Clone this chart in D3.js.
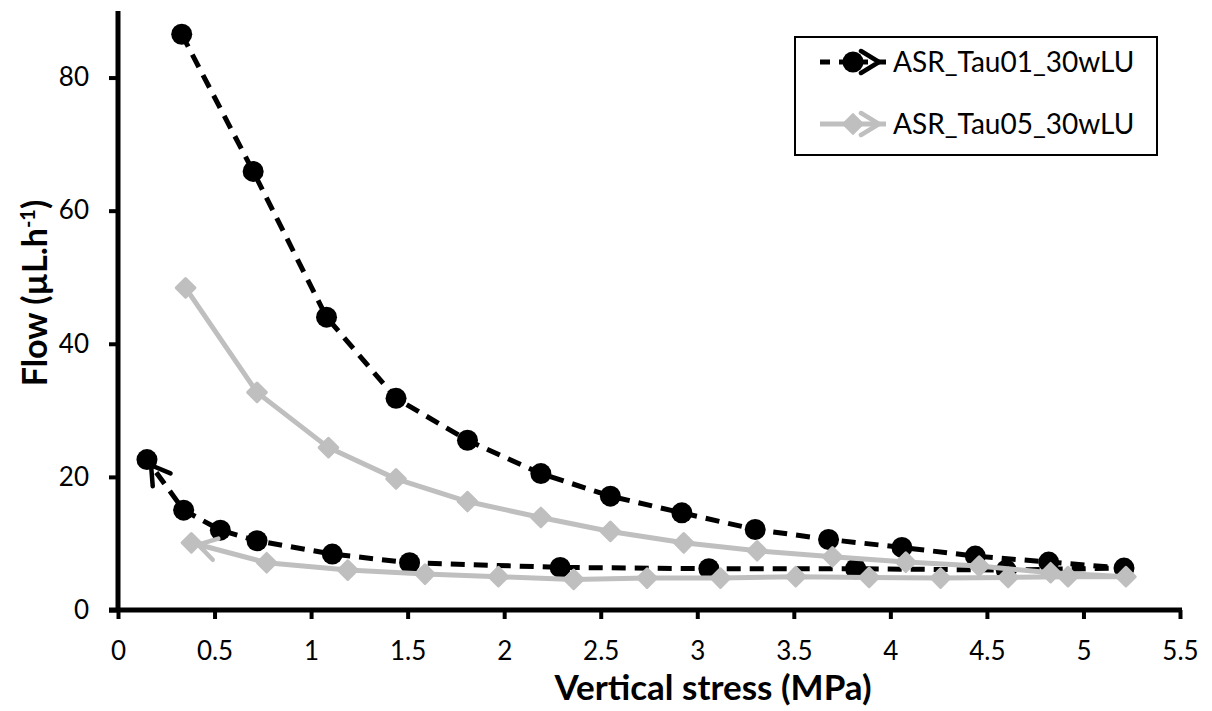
<!DOCTYPE html>
<html><head><meta charset="utf-8">
<script src="https://cdn.jsdelivr.net/npm/d3@7"></script>
<style>body{margin:0;background:#fff}svg{display:block}text{font-family:Lato,"Open Sans",sans-serif}</style>
</head><body>
<svg id="c" width="1212" height="711"></svg>
<script>
// Series 1: ASR_Tau01_30wLU (loading then unloading)
const tau01X = [0.33,0.70,1.08,1.44,1.81,2.19,2.55,2.92,3.30,3.68,4.06,4.44,4.82,5.21,4.60,3.82,3.06,2.29,1.51,1.11,0.72,0.53,0.34,0.15];
const tau01Y = [86.5,65.9,44.0,31.8,25.5,20.5,17.1,14.6,12.1,10.6,9.4,8.1,7.2,6.3,6.0,6.2,6.2,6.4,7.1,8.4,10.4,12.0,15.0,22.6];
// Series 2: ASR_Tau05_30wLU
const tau05X = [0.35,0.72,1.09,1.44,1.81,2.19,2.55,2.93,3.31,3.70,4.08,4.46,4.83,5.22,4.92,4.61,4.26,3.89,3.51,3.12,2.74,2.36,1.97,1.59,1.19,0.77,0.38];
const tau05Y = [48.4,32.7,24.4,19.7,16.3,13.9,11.8,10.1,8.9,8.0,7.2,6.6,5.6,5.0,5.0,4.9,4.8,4.9,5.0,4.8,4.8,4.6,5.0,5.4,6.0,7.1,10.1];
const seriesNames = ["ASR_Tau01_30wLU","ASR_Tau05_30wLU"];
const xTicks = [0,0.5,1,1.5,2,2.5,3,3.5,4,4.5,5,5.5];
const yTicks = [0,20,40,60,80];

const svg = d3.select("#c");
const x = d3.scaleLinear().domain([0,5.5]).range([118,1180]);
const y = d3.scaleLinear().domain([0,90]).range([610,11]);

const defs = svg.append("defs");
function arrow(id,color){
  defs.append("marker").attr("id",id).attr("viewBox","0 0 34 30").attr("refX",28).attr("refY",15)
    .attr("markerWidth",34).attr("markerHeight",30).attr("markerUnits","userSpaceOnUse").attr("orient","auto")
    .append("path").attr("d","M3,4 L21,15 L3,26").attr("fill","none").attr("stroke",color)
    .attr("stroke-width",4.5).attr("stroke-linecap","round").attr("stroke-linejoin","round");
}
arrow("arB","#000"); arrow("arG","#bfbfbf");

// axes
const xAxis = d3.axisBottom(x).tickValues(xTicks).tickSize(9).tickFormat(d=>String(d));
const yAxis = d3.axisLeft(y).tickValues(yTicks).tickSize(9).tickFormat(d=>String(d));
const gx = svg.append("g").attr("transform","translate(0,610)").call(xAxis);
const gy = svg.append("g").attr("transform","translate(118,0)").call(yAxis);
[gx,gy].forEach(g=>{
  g.select(".domain").remove();
  g.selectAll(".tick line").attr("stroke","#000").attr("stroke-width",4);
  g.selectAll(".tick text").attr("font-size",26).attr("fill","#000").attr("font-family","Lato,sans-serif");
});
gx.selectAll(".tick text").attr("dy",0).attr("y",50);
gy.selectAll(".tick text").attr("x",-29);
svg.append("line").attr("x1",118).attr("x2",118).attr("y1",11).attr("y2",612).attr("stroke","#000").attr("stroke-width",5);
svg.append("line").attr("x1",109).attr("x2",1182).attr("y1",610).attr("y2",610).attr("stroke","#000").attr("stroke-width",5);

// series data
const d1 = tau01X.map((v,i)=>[v,tau01Y[i]]);
const d2 = tau05X.map((v,i)=>[v,tau05Y[i]]);
const line = d3.line().x(d=>x(d[0])).y(d=>y(d[1]));
const diamond = d3.symbol().type(d3.symbolDiamond2).size(220);

// black series (drawn first, gray on top)
svg.append("path").datum(d1).attr("d",line).attr("fill","none").attr("stroke","#000")
  .attr("stroke-width",5).attr("stroke-dasharray","14,9").attr("marker-end","url(#arB)");
svg.append("g").selectAll("circle").data(d1).join("circle")
  .attr("cx",d=>x(d[0])).attr("cy",d=>y(d[1])).attr("r",10.5).attr("fill","#000");

// gray series
svg.append("path").datum(d2).attr("d",line).attr("fill","none").attr("stroke","#bfbfbf")
  .attr("stroke-width",5).attr("stroke-linejoin","round").attr("marker-end","url(#arG)");
svg.append("g").selectAll("path").data(d2).join("path")
  .attr("d",diamond).attr("transform",d=>`translate(${x(d[0])},${y(d[1])})`)
  .attr("fill","#bfbfbf").attr("stroke","#bfbfbf").attr("stroke-width",3).attr("stroke-linejoin","round");

// legend
const lg = svg.append("g");
lg.append("rect").attr("x",795).attr("y",37).attr("width",362).attr("height",118).attr("fill","#fff").attr("stroke","#000").attr("stroke-width",2);
const ly = [62,124];
lg.append("line").attr("x1",820).attr("x2",886).attr("y1",ly[0]).attr("y2",ly[0]).attr("stroke","#000").attr("stroke-width",5)
  .attr("stroke-dasharray","10,9").attr("marker-end","url(#arB)");
lg.append("circle").attr("cx",853).attr("cy",ly[0]).attr("r",10.5).attr("fill","#000");
lg.append("line").attr("x1",820).attr("x2",886).attr("y1",ly[1]).attr("y2",ly[1]).attr("stroke","#bfbfbf").attr("stroke-width",5)
  .attr("marker-end","url(#arG)");
lg.append("path").attr("d",diamond).attr("transform",`translate(853,${ly[1]})`).attr("fill","#bfbfbf").attr("stroke","#bfbfbf").attr("stroke-width",3).attr("stroke-linejoin","round");
seriesNames.forEach((n,i)=>{
  lg.append("text").attr("x",893).attr("y",ly[i]).attr("dy","0.36em").attr("font-size",28).attr("fill","#000").text(n);
});

// axis titles
svg.append("text").attr("x",713).attr("y",700).attr("text-anchor","middle").attr("font-size",35).attr("font-weight","bold").text("Vertical stress (MPa)");
const yt = svg.append("text").attr("transform","translate(47,293) rotate(-90)").attr("text-anchor","middle").attr("font-size",34).attr("font-weight","bold");
yt.append("tspan").text("Flow (µL.h");
yt.append("tspan").attr("baseline-shift","super").attr("font-size",20).text("-1");
yt.append("tspan").text(")");
</script>
</body></html>
